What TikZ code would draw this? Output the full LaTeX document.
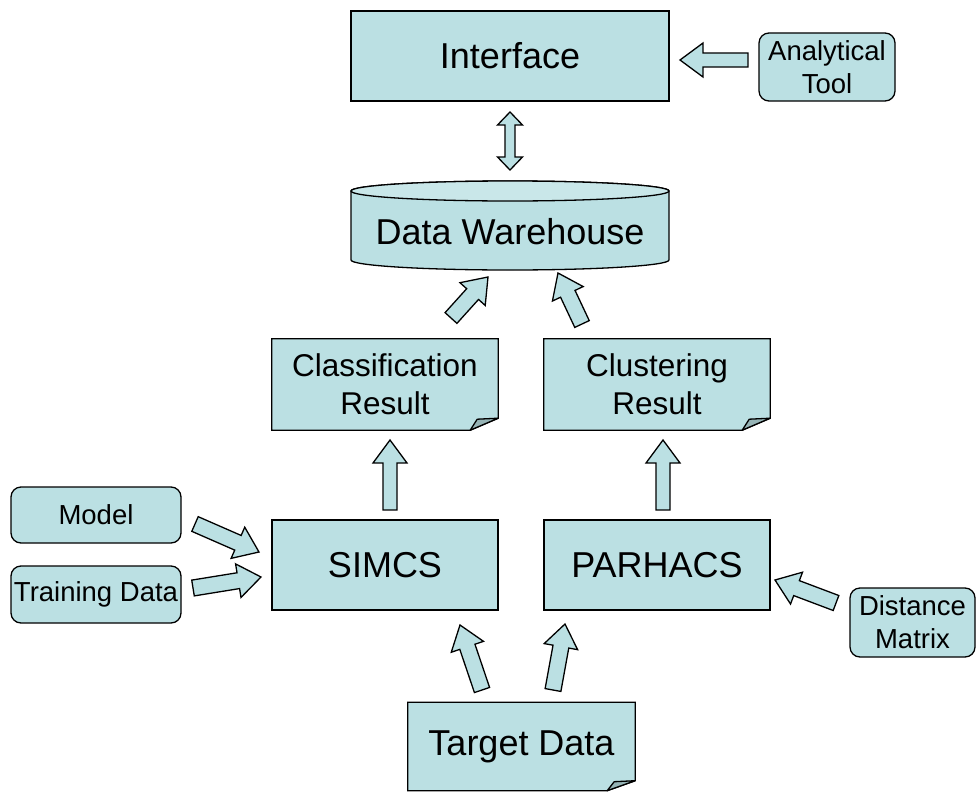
\documentclass[tikz,border=0pt]{standalone}
\usepackage{fontspec}
\setmainfont{Liberation Sans}
\usetikzlibrary{calc,backgrounds}
\definecolor{boxfill}{RGB}{187,224,227}
\definecolor{boxtop}{RGB}{201,231,233}
\definecolor{foldfill}{RGB}{150,180,182}
\tikzset{
  base/.style={line width=1.3pt, draw=black, fill=boxfill, line join=miter},
  plainbox/.style={base, rectangle, inner sep=0pt, align=center},
  roundbox/.style={base, rectangle, rounded corners=10pt, inner sep=0pt, align=center},
  textonly/.style={inner sep=0pt, align=center},
  big/.style={font=\fontsize{36}{43}\selectfont},
  mid/.style={font=\fontsize{31.5}{38}\selectfont},
  small/.style={font=\fontsize{27.5}{33}\selectfont},
  barrow/.style={base},
  foldflap/.style={line width=1.3pt, draw=black, fill=foldfill, line join=round},
}
\def\shw{7pt}\def\hhw{17pt}\def\hl{23pt}
\newcommand\blockarrow[2]{%
  \draw[barrow] let \p1=(#1), \p2=(#2), \n1={atan2(\y2-\y1,\x2-\x1)} in
    ($(\p1)+(\n1+90:\shw)$)
    -- ($(\p2)+(\n1+180:\hl)+(\n1+90:\shw)$)
    -- ($(\p2)+(\n1+180:\hl)+(\n1+90:\hhw)$)
    -- (\p2)
    -- ($(\p2)+(\n1+180:\hl)+(\n1-90:\hhw)$)
    -- ($(\p2)+(\n1+180:\hl)+(\n1-90:\shw)$)
    -- ($(\p1)+(\n1-90:\shw)$) -- cycle;}
\newcommand\docshape[3]{% node, fold dx, fold dy
  \draw[base] (#1.north west) -- (#1.north east) -- ([yshift=#3]#1.south east)
    -- ([xshift=-#2]#1.south east) -- (#1.south west) -- cycle;
  \draw[foldflap] ([xshift=-#2]#1.south east) -- ([xshift=-#2+7pt,yshift=#3-1pt]#1.south east)
    -- ([yshift=#3]#1.south east) -- cycle;}
\begin{document}
\begin{tikzpicture}[x=1pt,y=-1pt]
\useasboundingbox (0,0) rectangle (976,792);

% nodes
\node[plainbox,big,minimum width=318pt,minimum height=90pt] (iface) at (510,56) {Interface};
\node[roundbox,small,minimum width=136pt,minimum height=68pt] (atool) at (827,67) {Analytical\\Tool};
\node[inner sep=0pt,minimum width=318pt,minimum height=90pt] (dw) at (510,225.5) {};
\node[textonly,big] (dwlabel) at (510,232) {Data Warehouse};
\node[textonly,mid,minimum width=226pt,minimum height=91pt] (cls) at (385,384.5) {Classification\\Result};
\node[textonly,mid,minimum width=226pt,minimum height=91pt] (clu) at (657,384.5) {Clustering\\Result};
\node[plainbox,big,minimum width=226pt,minimum height=90pt] (simcs) at (385,565) {SIMCS};
\node[plainbox,big,minimum width=226pt,minimum height=90pt] (parhacs) at (657,565) {PARHACS};
\node[roundbox,small,minimum width=170pt,minimum height=56pt] (model) at (96,515) {Model};
\node[roundbox,small,minimum width=170pt,minimum height=57pt] (train) at (96,594.5) {Training Data};
\node[roundbox,small,minimum width=125pt,minimum height=69pt] (dist) at (912.5,622.5) {Distance\\Matrix};
\node[textonly,big,minimum width=227pt,minimum height=88pt] (target) at (521.5,746.5) {Target Data};

\begin{pgfonlayer}{background}
  % cylinder
  \draw[base] (351,191) -- (351,260) arc[start angle=180,end angle=360,x radius=159pt,y radius=10pt]
     -- (669,191) arc[start angle=0,end angle=180,x radius=159pt,y radius=10pt] -- cycle;
  \draw[base,fill=boxtop] (510,191) ellipse[x radius=159pt,y radius=10pt];
  % documents
  \docshape{cls}{28pt}{12pt}
  \docshape{clu}{28pt}{12pt}
  \docshape{target}{28pt}{10pt}
\end{pgfonlayer}

% arrow end points
\coordinate (a1t) at (748,60);  \coordinate (a1h) at (680,60);
\coordinate (a2t) at (451,318); \coordinate (a2h) at (488,277);
\coordinate (a3t) at (582,324); \coordinate (a3h) at (558,273);
\coordinate (a4t) at (390,510); \coordinate (a4h) at (390,440);
\coordinate (a5t) at (663,510); \coordinate (a5h) at (663,440);
\coordinate (a6t) at (195,524); \coordinate (a6h) at (259,552);
\coordinate (a7t) at (193,588); \coordinate (a7h) at (261,577);
\coordinate (a8t) at (836,603); \coordinate (a8h) at (775,580);
\coordinate (a9t) at (482,690); \coordinate (a9h) at (460,625);
\coordinate (a10t) at (553,690); \coordinate (a10h) at (565,624);
\coordinate (dtop) at (510,112); \coordinate (dbot) at (510,170);

\blockarrow{a1t}{a1h}
\blockarrow{a4t}{a4h}
\blockarrow{a5t}{a5h}
\def\shw{8pt}
\blockarrow{a2t}{a2h}
\blockarrow{a3t}{a3h}
\blockarrow{a6t}{a6h}
\blockarrow{a7t}{a7h}
\blockarrow{a8t}{a8h}
\blockarrow{a9t}{a9h}
\blockarrow{a10t}{a10h}

% double arrow
\draw[barrow] (dtop) -- ++(12.5,13) -- ++(-7.5,0) -- ++(0,32) -- ++(7.5,0) -- (dbot)
  -- ++(-12.5,-13) -- ++(7.5,0) -- ++(0,-32) -- ++(-7.5,0) -- cycle;
\end{tikzpicture}
\end{document}
